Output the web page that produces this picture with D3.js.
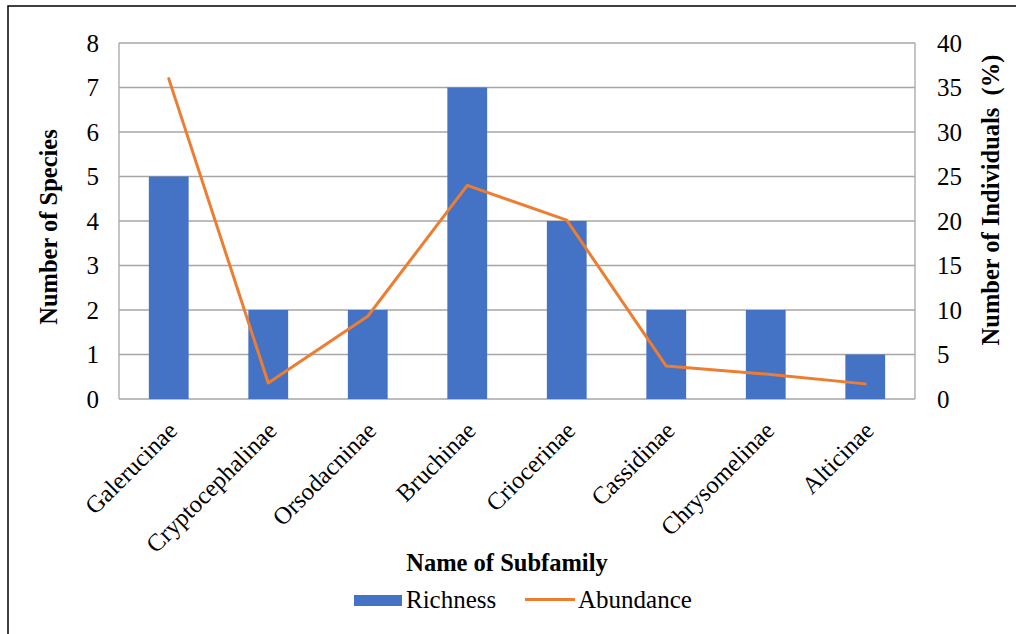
<!DOCTYPE html>
<html>
<head>
<meta charset="utf-8">
<script src="https://cdn.jsdelivr.net/npm/d3@7/dist/d3.min.js"></script>
<style>
  html, body { margin: 0; padding: 0; background: #fff; }
  svg { display: block; }
  text { font-family: "Liberation Serif", "Times New Roman", serif; fill: #000; }
</style>
</head>
<body>
<svg id="chart" width="1016" height="634"></svg>
<script>
// Leaf beetle subfamilies: species richness (bars) and abundance (line)
const subfamilies = ["Galerucinae", "Cryptocephalinae", "Orsodacninae", "Bruchinae",
                     "Criocerinae", "Cassidinae", "Chrysomelinae", "Alticinae"];
const richness = [5, 2, 2, 7, 4, 2, 2, 1];
const abundance = [36, 1.8, 9.3, 24, 20.1, 3.7, 2.8, 1.7];
const leftTicks = [0, 1, 2, 3, 4, 5, 6, 7, 8];
const rightTicks = [0, 5, 10, 15, 20, 25, 30, 35, 40];

const svg = d3.select("#chart");
const plot = { left: 119, right: 915, top: 43, bottom: 399 };
const serif = "Liberation Serif";

// outer frame (left and top edges)
svg.append("path")
  .attr("d", "M8,634 L8,6 L1016,6")
  .attr("fill", "none").attr("stroke", "#000").attr("stroke-width", 1.5);

const x = d3.scaleBand().domain(subfamilies)
  .range([plot.left, plot.right]).paddingInner(0.6).paddingOuter(0.3);
const yL = d3.scaleLinear().domain([0, 8]).range([plot.bottom, plot.top]);
const yR = d3.scaleLinear().domain([0, 40]).range([plot.bottom, plot.top]);

// gridlines
svg.append("g").selectAll("line").data(leftTicks).join("line")
  .attr("x1", plot.left).attr("x2", plot.right)
  .attr("y1", d => yL(d)).attr("y2", d => yL(d))
  .attr("stroke", "#a6a6a6").attr("stroke-width", 1.3);

// plot-area sides
svg.append("g").selectAll("line").data([plot.left, plot.right]).join("line")
  .attr("x1", d => d).attr("x2", d => d)
  .attr("y1", plot.top).attr("y2", plot.bottom)
  .attr("stroke", "#a6a6a6").attr("stroke-width", 1.3);

// bars
svg.append("g").selectAll("rect").data(subfamilies).join("rect")
  .attr("x", d => x(d)).attr("width", x.bandwidth())
  .attr("y", (d, i) => yL(richness[i]))
  .attr("height", (d, i) => yL(0) - yL(richness[i]))
  .attr("fill", "#4472c4");

// abundance line
const line = d3.line()
  .x((d, i) => x(subfamilies[i]) + x.bandwidth() / 2)
  .y(d => yR(d));
svg.append("path").datum(abundance)
  .attr("d", line)
  .attr("fill", "none").attr("stroke", "#ed7d31")
  .attr("stroke-width", 3).attr("stroke-linejoin", "round").attr("stroke-linecap", "round");

// left axis labels
const axL = d3.axisLeft(yL).tickValues(leftTicks).tickSize(0).tickPadding(20);
svg.append("g").attr("transform", `translate(${plot.left},0)`).call(axL)
  .attr("font-family", serif).attr("font-size", 25)
  .call(g => g.select(".domain").remove());

// right axis labels
const axR = d3.axisRight(yR).tickValues(rightTicks).tickSize(0).tickPadding(22);
svg.append("g").attr("transform", `translate(${plot.right},0)`).call(axR)
  .attr("font-family", serif).attr("font-size", 25)
  .call(g => g.select(".domain").remove());

// category labels
const axB = d3.axisBottom(x).tickSize(0).tickPadding(0);
svg.append("g").attr("transform", `translate(0,${plot.bottom})`).call(axB)
  .attr("font-family", serif).attr("font-size", 24.5)
  .call(g => g.select(".domain").remove())
  .selectAll("text")
  .attr("text-anchor", "end")
  .attr("dy", "0")
  .attr("transform", "translate(10,33) rotate(-45)");

// axis titles
svg.append("text")
  .attr("transform", `translate(57,${(plot.top + plot.bottom) / 2 + 6}) rotate(-90)`)
  .attr("text-anchor", "middle").attr("font-family", serif)
  .attr("font-size", 24.5).attr("font-weight", "bold")
  .text("Number of Species");
svg.append("text")
  .attr("transform", `translate(999,200) rotate(-90)`)
  .attr("text-anchor", "middle").attr("font-family", serif)
  .attr("font-size", 24.5).attr("font-weight", "bold")
  .attr("xml:space", "preserve")
  .text("Number of Individuals  (%)");
svg.append("text")
  .attr("x", 507).attr("y", 571)
  .attr("text-anchor", "middle").attr("font-family", serif)
  .attr("font-size", 24.5).attr("font-weight", "bold")
  .text("Name of Subfamily");

// legend
const lg = svg.append("g").attr("font-family", serif).attr("font-size", 25);
lg.append("rect").attr("x", 354).attr("y", 595).attr("width", 48).attr("height", 11).attr("fill", "#4472c4");
lg.append("text").attr("x", 406).attr("y", 608).attr("font-family", serif).text("Richness");
lg.append("line").attr("x1", 525).attr("x2", 575).attr("y1", 599.5).attr("y2", 599.5)
  .attr("stroke", "#ed7d31").attr("stroke-width", 3);
lg.append("text").attr("x", 578).attr("y", 608).attr("font-family", serif).text("Abundance");
</script>
</body>
</html>
